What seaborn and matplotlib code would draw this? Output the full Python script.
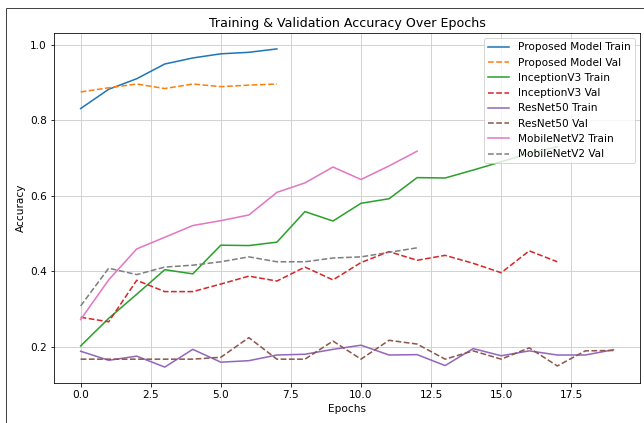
import matplotlib
matplotlib.use("Agg")
import matplotlib.pyplot as plt
import seaborn as sns
import pandas as pd
from matplotlib.patches import Rectangle

# ---- data ----
proposed_train = [0.831, 0.882, 0.910, 0.949, 0.965, 0.976, 0.980, 0.989]
proposed_val = [0.875, 0.886, 0.896, 0.884, 0.896, 0.889, 0.893, 0.896]
inception_train = [0.202, 0.275, 0.339, 0.404, 0.393, 0.469, 0.468, 0.477, 0.558,
                   0.533, 0.580, 0.592, 0.648, 0.647, 0.668, 0.690, 0.712, 0.730]
inception_val = [0.278, 0.266, 0.376, 0.346, 0.346, 0.366, 0.387, 0.374, 0.411,
                 0.377, 0.423, 0.452, 0.429, 0.442, 0.421, 0.396, 0.454, 0.425]
resnet_train = [0.188, 0.164, 0.175, 0.146, 0.193, 0.159, 0.163, 0.178, 0.180, 0.193,
                0.204, 0.178, 0.179, 0.150, 0.195, 0.176, 0.189, 0.178, 0.178, 0.192]
resnet_val = [0.167, 0.167, 0.167, 0.167, 0.167, 0.172, 0.224, 0.167, 0.167, 0.215,
              0.167, 0.217, 0.207, 0.167, 0.189, 0.167, 0.197, 0.149, 0.189, 0.190]
mobilenet_train = [0.272, 0.377, 0.459, 0.490, 0.521, 0.534, 0.549, 0.609, 0.634,
                   0.676, 0.643, 0.679, 0.718]
mobilenet_val = [0.308, 0.408, 0.391, 0.411, 0.416, 0.425, 0.438, 0.425, 0.425,
                 0.435, 0.438, 0.450, 0.462]

series = [
    ("Proposed Model Train", proposed_train, "-"),
    ("Proposed Model Val", proposed_val, "--"),
    ("InceptionV3 Train", inception_train, "-"),
    ("InceptionV3 Val", inception_val, "--"),
    ("ResNet50 Train", resnet_train, "-"),
    ("ResNet50 Val", resnet_val, "--"),
    ("MobileNetV2 Train", mobilenet_train, "-"),
    ("MobileNetV2 Val", mobilenet_val, "--"),
]
colors = sns.color_palette("tab10", 8)

fig = plt.figure(figsize=(644 / 72, 423 / 72), dpi=72)
ax = fig.add_axes([54 / 644, 1 - 383 / 423, (640 - 54) / 644, (383 - 33) / 423])

for (name, vals, ls), c in zip(series, colors):
    df = pd.DataFrame({"Epoch": list(range(len(vals))), "Accuracy": vals})
    sns.lineplot(data=df, x="Epoch", y="Accuracy", ax=ax, color=c,
                 linestyle=ls, label=name, linewidth=1.55)

ax.set_title("Training & Validation Accuracy Over Epochs", fontsize=12.6)
ax.set_xlabel("Epochs", fontsize=10.5)
ax.set_ylabel("Accuracy", fontsize=10.5)
ax.tick_params(labelsize=10.5)
ax.grid(True, color="#cfcfcf", linewidth=0.9)
ax.legend(loc="upper right", fontsize=10.5)

fig.patches.append(Rectangle((6 / 644, -0.2), 1.5, 1 - 8 / 423 + 0.2, fill=False,
                             edgecolor="#444444", linewidth=1,
                             transform=fig.transFigure, figure=fig))

fig.savefig("out.png", dpi=72)
